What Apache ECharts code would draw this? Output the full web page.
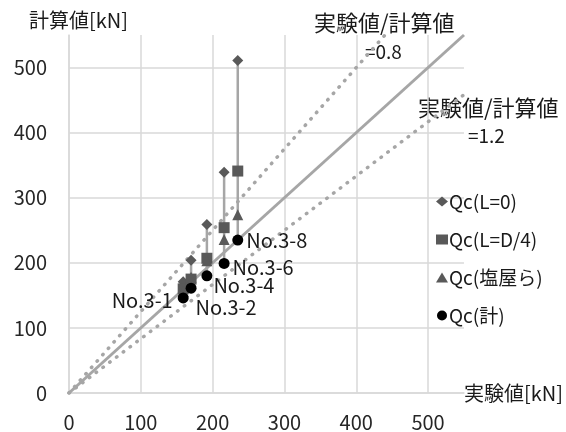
<!DOCTYPE html>
<html>
<head>
<meta charset="utf-8">
<script src="https://cdn.jsdelivr.net/npm/echarts@6/dist/echarts.min.js"></script>
<style>
  html, body { margin: 0; padding: 0; background: #fff; }
  #chart-container { width: 566px; height: 432px; }
</style>
</head>
<body>
<div id="chart-container"></div>
<script>
// test specimens and values [kN]
const testNames = ['No.3-1', 'No.3-2', 'No.3-4', 'No.3-6', 'No.3-8']
const experimental = [159, 170, 192, 216, 235]
const qcL0 = [171, 204, 259, 339, 511]
const qcLD4 = [160, 175, 207, 254, 341]
const qcShioya = [156, 178, 203, 236, 274]
const qcCalc = [146, 161, 180, 199, 235]
const seriesNames = ['Qc(L=0)', 'Qc(L=D/4)', 'Qc(塩屋ら)', 'Qc(計)']
const ratios = [0.8, 1.2]   // 実験値/計算値
const axisTicks = [0, 100, 200, 300, 400, 500]
const axisMax = 550

const font = '"Noto Sans CJK JP", "Noto Sans", sans-serif'
const pts = (ys) => experimental.map((x, i) => [x, ys[i]])

// label placement for each specimen name
const labelPlace = [
    { position: 'left', offset: [-2, 2] },
    { position: 'right', offset: [-4, 19] },
    { position: 'right', offset: [-2, 10] },
    { position: 'right', offset: [0, 4] },
    { position: 'right', offset: [0, 0] }
]

let myChart = echarts.init(document.getElementById('chart-container'))

const stems = experimental.map((x, i) => ({
    type: 'line',
    silent: true,
    symbol: 'none',
    z: 1,
    lineStyle: { color: '#a6a6a6', width: 2.5 },
    data: [[x, qcCalc[i]], [x, qcL0[i]]]
}))

const refLines = [
    {
        type: 'line', silent: true, symbol: 'none', z: 1,
        lineStyle: { color: '#a6a6a6', width: 3 },
        data: [[0, 0], [axisMax, axisMax]]
    }
].concat(ratios.map(r => ({
    type: 'line', silent: true, symbol: 'none', z: 1,
    lineStyle: { color: '#a6a6a6', width: 3.5, type: [0.5, 8], cap: 'round' },
    data: r < 1 ? [[0, 0], [axisMax * r, axisMax]] : [[0, 0], [axisMax, axisMax / r]]
})))

const marker = (name, symbol, size, color, ys) => ({
    name: name,
    type: 'scatter',
    symbol: symbol,
    symbolSize: size,
    z: 3,
    itemStyle: { color: color, opacity: 1 },
    data: pts(ys)
})

const calcSeries = marker(seriesNames[3], 'circle', 11, '#000000', qcCalc)
calcSeries.z = 4
calcSeries.data = experimental.map((x, i) => ({
    value: [x, qcCalc[i]],
    label: {
        show: true,
        formatter: testNames[i],
        position: labelPlace[i].position,
        offset: labelPlace[i].offset,
        distance: 3,
        fontSize: 20,
        color: '#1a1a1a',
        fontFamily: font
    }
}))

const axisCommon = {
    type: 'value',
    min: 0,
    max: axisMax,
    interval: 100,
    axisTick: { show: false },
    axisLine: { show: true, lineStyle: { color: '#d9d9d9', width: 1.5 } },
    splitLine: { show: true, showMaxLine: false, lineStyle: { color: '#d9d9d9', width: 1.5 } },
    axisLabel: {
        fontSize: 20,
        color: '#262626',
        fontFamily: font,
        showMaxLabel: false,
        formatter: v => (axisTicks.indexOf(v) >= 0 ? String(v) : '')
    }
}

const option = {
    animation: false,
    backgroundColor: '#ffffff',
    textStyle: { fontFamily: font },
    grid: { left: 69, right: 98, top: 35, bottom: 38 },
    xAxis: Object.assign({}, axisCommon, {
        name: '実験値[kN]',
        nameLocation: 'end',
        nameGap: 0,
        nameTextStyle: { fontSize: 20, color: '#1a1a1a', fontFamily: font, padding: [0, 0, 28, 0] },
        axisLabel: Object.assign({}, axisCommon.axisLabel, { margin: 19 })
    }),
    yAxis: Object.assign({}, axisCommon, {
        name: '計算値[kN]',
        nameLocation: 'end',
        nameGap: 5,
        nameTextStyle: { fontSize: 20, color: '#1a1a1a', fontFamily: font, align: 'center', padding: [0, 0, 0, 19] },
        axisLabel: Object.assign({}, axisCommon.axisLabel, { margin: 22 })
    }),
    legend: {
        data: seriesNames,
        orient: 'vertical',
        left: 431,
        top: 187,
        itemGap: 19,
        itemWidth: 12,
        itemHeight: 10,
        textStyle: { fontSize: 19, color: '#1a1a1a', fontFamily: font, padding: [0, 0, 0, -4] }
    },
    graphic: [
        { type: 'text', left: 314, top: 12, style: { text: '実験値/計算値', fontSize: 22, fill: '#1a1a1a', fontFamily: font } },
        { type: 'text', left: 365, top: 42, style: { text: '=0.8', fontSize: 19, fill: '#1a1a1a', fontFamily: font } },
        { type: 'text', left: 418, top: 97, style: { text: '実験値/計算値', fontSize: 22, fill: '#1a1a1a', fontFamily: font } },
        { type: 'text', left: 468, top: 126, style: { text: '=1.2', fontSize: 19, fill: '#1a1a1a', fontFamily: font } }
    ],
    series: stems.concat(refLines, [
        marker(seriesNames[0], 'diamond', 11, '#595959', qcL0),
        marker(seriesNames[1], 'rect', 11, '#595959', qcLD4),
        marker(seriesNames[2], 'triangle', 11, '#595959', qcShioya),
        calcSeries
    ])
}

option && myChart.setOption(option)
</script>
</body>
</html>
